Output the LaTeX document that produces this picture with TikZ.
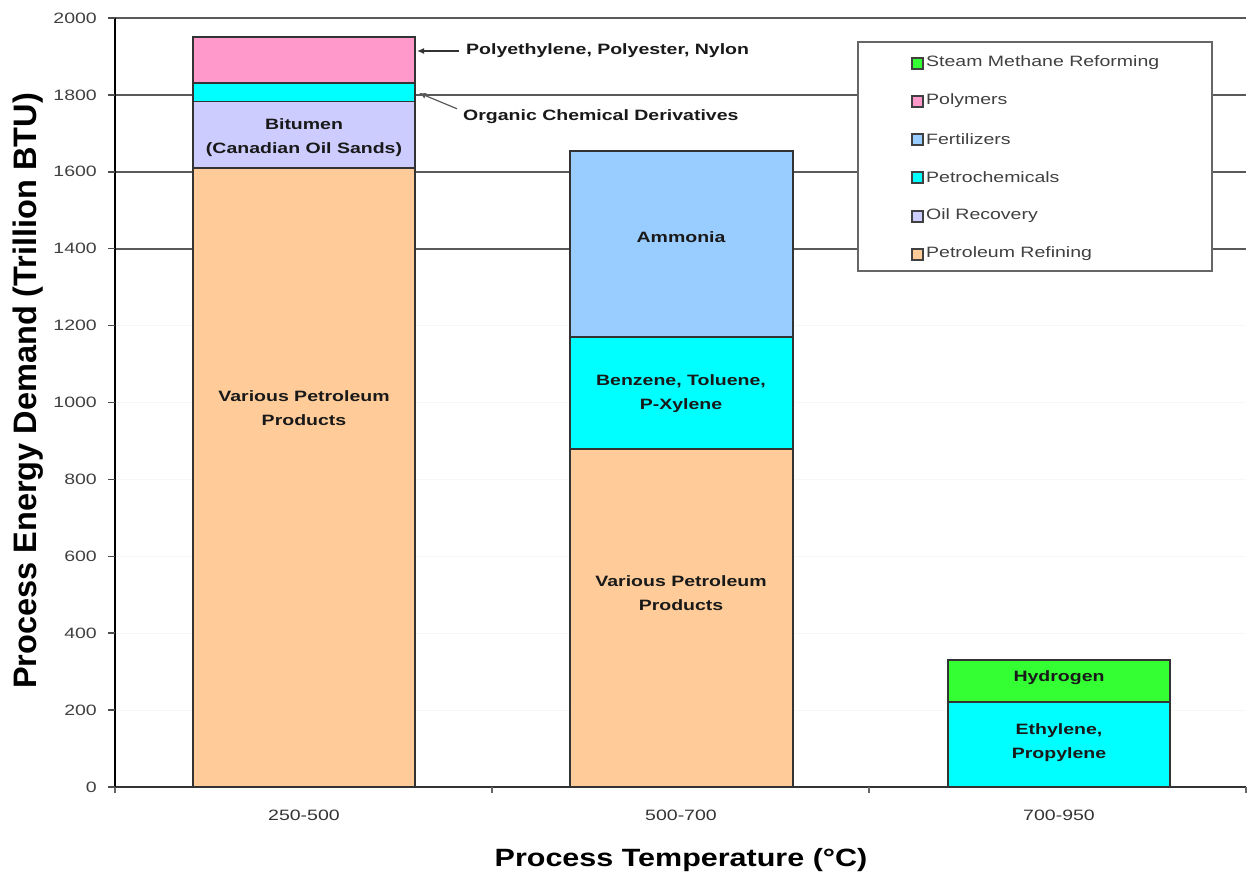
\documentclass[tikz,border=0pt]{standalone}
\usepackage{fontspec}
\setmainfont[FakeStretch=1.3]{Liberation Sans}
\newfontfamily\xtitlefont[FakeStretch=1.22]{Liberation Sans}
\newfontfamily\ytitlefont{Liberation Sans}
\usetikzlibrary{arrows.meta}
\definecolor{refining}{HTML}{FFCC99}
\definecolor{oilrec}{HTML}{CCCCFF}
\definecolor{petchem}{HTML}{00FFFF}
\definecolor{polymer}{HTML}{FF99CC}
\definecolor{fert}{HTML}{99CCFF}
\definecolor{smr}{HTML}{33FF33}

\begin{document}
\begin{tikzpicture}[x=1pt,y=1pt,
  barlabel/.style={font=\fontsize{15}{24}\selectfont\bfseries, align=center, text=black!90},
  ticklabel/.style={font=\fontsize{15}{17}\selectfont, text=black!75, inner sep=0pt},
  legendtext/.style={font=\fontsize{15}{17}\selectfont, text=black!75, anchor=west, inner sep=1pt},
  notelabel/.style={font=\fontsize{15}{17}\selectfont\bfseries, text=black!90, anchor=west, inner sep=1pt},
  barpart/.style={draw=black!80, line width=1.8pt},
  keybox/.style={draw=black!75, line width=1.2pt}]
\useasboundingbox (0,0) rectangle (1249,880);

\begin{scope}[shift={(115,93)}, y=0.3845pt]
% grid lines
\foreach \v in {200,400,...,1200}
  \draw[black!3, line width=1pt] (0,\v) -- (1131,\v);
\foreach \v in {1400,1600,...,2000}
  \draw[black!65, line width=2.2pt] (0,\v) -- (1131,\v);

% 250-500
\draw[barpart, fill=refining] (78,0) rectangle (300,1610);
\draw[barpart, fill=oilrec] (78,1610) rectangle (300,1783);
\draw[barpart, fill=petchem] (78,1783) rectangle (300,1830);
\draw[barpart, fill=polymer] (78,1830) rectangle (300,1950);
% 500-700
\draw[barpart, fill=refining] (455,0) rectangle (678,880);
\draw[barpart, fill=petchem] (455,880) rectangle (678,1170);
\draw[barpart, fill=fert] (455,1170) rectangle (678,1655);
% 700-950
\draw[barpart, fill=petchem] (833,0) rectangle (1055,222);
\draw[barpart, fill=smr] (833,222) rectangle (1055,330);

% axes
\draw[black!80, line width=2.2pt] (0,0) -- (1131,0);
\foreach \x in {0,377,754,1131}
  \draw[black!60, line width=1.5pt] (\x,0) -- (\x,-16);
\draw[black, line width=2.6pt] (0,0) -- (0,2000);
\foreach \v in {0,200,...,2000} {
  \draw[black!70, line width=1.5pt] (-7,\v) -- (0,\v);
  \node[ticklabel, anchor=east] (yt\v) at (-18,\v) {\v};
}
\end{scope}

% bar texts
\node[barlabel] (various1) at (304,472) {Various Petroleum\\Products};
\node[barlabel] (bitumen) at (304,742) {Bitumen\\(Canadian Oil Sands)};
\node[barlabel] (various2) at (681,287) {Various Petroleum\\Products};
\node[barlabel] (btx) at (681,486) {Benzene, Toluene,\\P-Xylene};
\node[barlabel] (ammonia) at (681,643) {Ammonia};
\node[barlabel] (ethylene) at (1059,137) {Ethylene,\\Propylene};
\node[barlabel] (hydrogen) at (1059,202) {Hydrogen};

% notes with arrows
\node[notelabel] (polynote) at (465,829) {Polyethylene, Polyester, Nylon};
\node[notelabel] (orgnote) at (462,763) {Organic Chemical Derivatives};
\coordinate (polytip) at (417,829);
\coordinate (orgtip) at (419,787);
\draw[black!80, line width=1.2pt, -{Latex[length=7pt,width=6pt]}] ([xshift=-6pt]polynote.west) -- (polytip);
\draw[black!65, line width=1.2pt, -{Latex[length=7pt,width=6pt]}] ([xshift=-5pt]orgnote.north west) -- (orgtip);

% legend
\draw[black!60, line width=2pt, fill=white] (858,609) rectangle (1212,838);
\draw[keybox, fill=smr] (912,811) rectangle (923,822);
\node[legendtext] (keysmr) at (925,817) {Steam Methane Reforming};
\draw[keybox, fill=polymer] (912,773) rectangle (923,784);
\node[legendtext] (keypoly) at (925,779) {Polymers};
\draw[keybox, fill=fert] (912,735) rectangle (923,746);
\node[legendtext] (keyfert) at (925,741) {Fertilizers};
\draw[keybox, fill=petchem] (912,697) rectangle (923,708);
\node[legendtext] (keypet) at (925,703) {Petrochemicals};
\draw[keybox, fill=oilrec] (912,658) rectangle (923,669);
\node[legendtext] (keyoil) at (925,664) {Oil Recovery};
\draw[keybox, fill=refining] (912,620) rectangle (923,631);
\node[legendtext] (keyref) at (925,626) {Petroleum Refining};

% axis titles
\node[text=black!80] (cat1) at (304,65) {\fontsize{15}{17}\selectfont 250-500};
\node[text=black!80] (cat2) at (681,65) {\fontsize{15}{17}\selectfont 500-700};
\node[text=black!80] (cat3) at (1059,65) {\fontsize{15}{17}\selectfont 700-950};
\node[font=\xtitlefont\fontsize{25}{30}\selectfont\bfseries] (xtitle) at (681,20) {Process Temperature (°C)};
\node[rotate=90, font=\ytitlefont\fontsize{32.5}{36}\selectfont\bfseries] (ytitle) at (28,489) {Process Energy Demand (Trillion BTU)};
\end{tikzpicture}
\end{document}
